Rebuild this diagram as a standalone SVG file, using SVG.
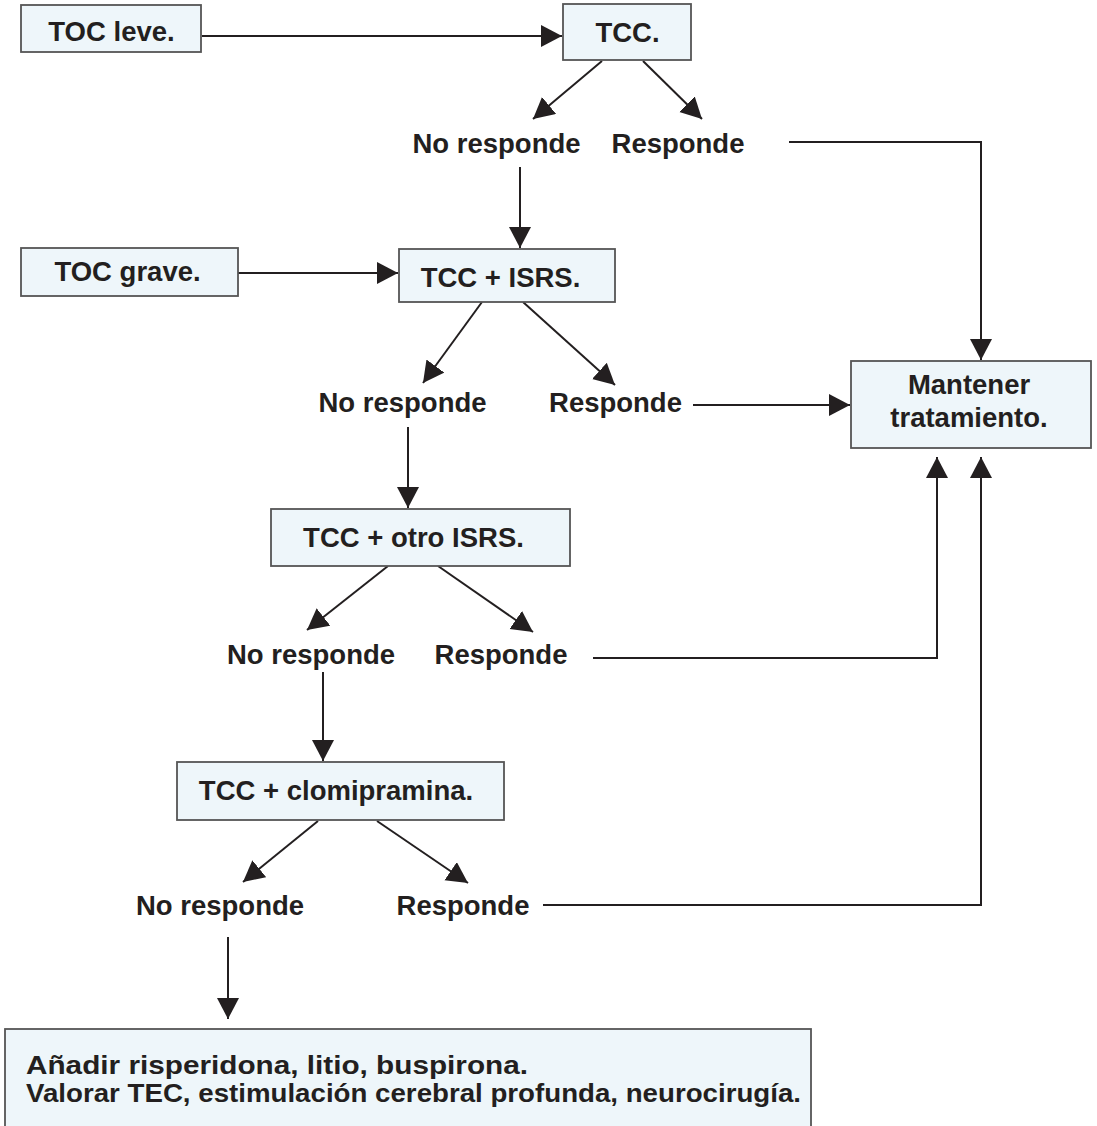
<svg xmlns="http://www.w3.org/2000/svg" width="1097" height="1126" viewBox="0 0 1097 1126">
<style>
.box{fill:#eef6fa;stroke:#555;stroke-width:1.8}
.t{font-family:"Liberation Sans",Arial,sans-serif;font-weight:bold;font-size:27.5px;fill:#231f20}
.s{font-size:25px}
.c{text-anchor:middle}
.ln{fill:none;stroke:#231f20;stroke-width:2;marker-end:url(#ah)}
</style>
<defs>
<marker id="ah" markerUnits="userSpaceOnUse" markerWidth="24" markerHeight="24" refX="21" refY="11" orient="auto">
<path d="M0,0 L21,11 L0,22 Z" fill="#231f20"/>
</marker>
</defs>
<rect width="1097" height="1126" fill="#fff"/>
<g id="connectors">
<path class="ln" d="M202,36 H562"/>
<path class="ln" d="M602,61 L533,119"/>
<path class="ln" d="M643,61 L702,119"/>
<path class="ln" d="M520,167 V248"/>
<path class="ln" d="M789,142 H981 V360"/>
<path class="ln" d="M238,273 H398"/>
<path class="ln" d="M482,302 L423,383"/>
<path class="ln" d="M523,302 L615,385"/>
<path class="ln" d="M693,405 H850"/>
<path class="ln" d="M408,427 V508"/>
<path class="ln" d="M388,566 L307,630"/>
<path class="ln" d="M438,566 L533,632"/>
<path class="ln" d="M593,658 H937 V457"/>
<path class="ln" d="M323,672 V761"/>
<path class="ln" d="M318,821 L243,882"/>
<path class="ln" d="M377,821 L468,883"/>
<path class="ln" d="M543,905 H981 V457"/>
<path class="ln" d="M228,937 V1019"/>
</g>
<g id="toc-leve"><rect class="box" x="21" y="5" width="180" height="47"/><text class="t c" x="111.5" y="41">TOC leve.</text></g>
<g id="tcc"><rect class="box" x="563" y="4" width="128" height="56"/><text class="t c" x="627.5" y="42">TCC.</text></g>
<g id="no-responde-1"><text class="t c" x="496.5" y="153">No responde</text></g>
<g id="responde-1"><text class="t c" x="678" y="153">Responde</text></g>
<g id="toc-grave"><rect class="box" x="21" y="248" width="217" height="48"/><text class="t c" x="127.5" y="281">TOC grave.</text></g>
<g id="tcc-isrs"><rect class="box" x="399" y="249" width="216" height="53"/><text class="t c" x="500.5" y="287">TCC + ISRS.</text></g>
<g id="no-responde-2"><text class="t c" x="402.5" y="412">No responde</text></g>
<g id="responde-2"><text class="t c" x="615.5" y="412">Responde</text></g>
<g id="mantener"><rect class="box" x="851" y="361" width="240" height="87"/><text class="t c" x="969" y="394">Mantener</text><text class="t c" x="969" y="427">tratamiento.</text></g>
<g id="tcc-otro-isrs"><rect class="box" x="271" y="509" width="299" height="57"/><text class="t c" x="413.5" y="547">TCC + otro ISRS.</text></g>
<g id="no-responde-3"><text class="t c" x="311" y="664">No responde</text></g>
<g id="responde-3"><text class="t c" x="501" y="664">Responde</text></g>
<g id="tcc-clomipramina"><rect class="box" x="177" y="762" width="327" height="58"/><text class="t c" x="336" y="800">TCC + clomipramina.</text></g>
<g id="no-responde-4"><text class="t c" x="220" y="915">No responde</text></g>
<g id="responde-4"><text class="t c" x="463" y="915">Responde</text></g>
<g id="final"><rect class="box" x="5" y="1029" width="806" height="110"/><text class="t s" x="26" y="1074" textLength="502" lengthAdjust="spacingAndGlyphs">Añadir risperidona, litio, buspirona.</text><text class="t s" x="26" y="1102" textLength="775" lengthAdjust="spacingAndGlyphs">Valorar TEC, estimulación cerebral profunda, neurocirugía.</text></g>
</svg>
